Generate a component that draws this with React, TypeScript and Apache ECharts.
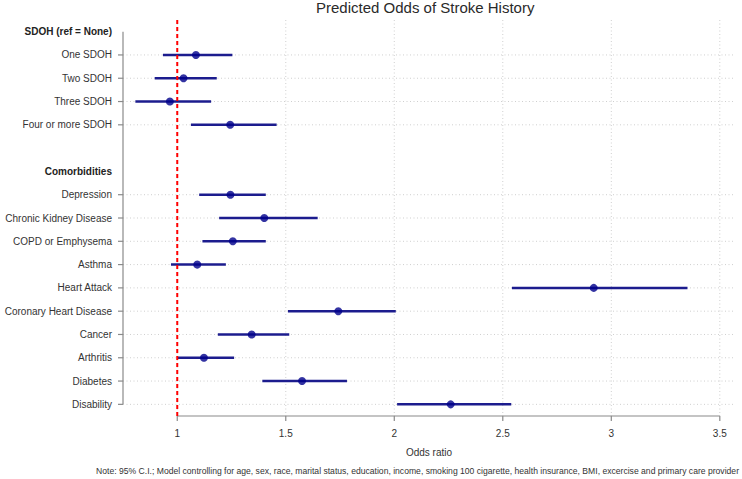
import React, { useEffect, useRef } from 'react';
import * as echarts from 'echarts';

// Odds ratios with 95% confidence limits
const sdohHeader = 'SDOH (ref = None)';
const sdohLabels = ['One SDOH', 'Two SDOH', 'Three SDOH', 'Four or more SDOH'];
const sdohOR = [1.086, 1.029, 0.966, 1.244];
const sdohLower = [0.934, 0.896, 0.807, 1.063];
const sdohUpper = [1.254, 1.182, 1.156, 1.458];

const comorbHeader = 'Comorbidities';
const comorbLabels = [
  'Depression',
  'Chronic Kidney Disease',
  'COPD or Emphysema',
  'Asthma',
  'Heart Attack',
  'Coronary Heart Disease',
  'Cancer',
  'Arthritis',
  'Diabetes',
  'Disability',
];
const comorbOR = [1.245, 1.401, 1.256, 1.092, 2.919, 1.742, 1.343, 1.123, 1.575, 2.26];
const comorbLower = [1.101, 1.193, 1.116, 0.971, 2.542, 1.51, 1.187, 1.0, 1.392, 2.013];
const comorbUpper = [1.408, 1.647, 1.408, 1.224, 3.351, 2.007, 1.516, 1.262, 1.782, 2.539];

const xTicks = [1, 1.5, 2, 2.5, 3, 3.5];
const xMin = 0.75;
const xMax = 3.57;
const refValue = 1;

const spacer = ' ';
const headers = [sdohHeader, comorbHeader];
const rows = [sdohHeader, ...sdohLabels, spacer, comorbHeader, ...comorbLabels];
const itemLabels = [...sdohLabels, ...comorbLabels];
const orValues = [...sdohOR, ...comorbOR];
const lowerValues = [...sdohLower, ...comorbLower];
const upperValues = [...sdohUpper, ...comorbUpper];

const FONT = '"Liberation Sans", Arial, sans-serif';
const NOTE =
  'Note: 95% C.I.; Model controlling for age, sex, race, marital status, education, income, smoking 100 cigarette, health insurance, BMI, excercise and primary care provider';

export default function App() {
  const ref = useRef<HTMLDivElement>(null);

  useEffect(() => {
    if (!ref.current) return;
    const chart = echarts.init(ref.current, undefined, { renderer: 'svg' });

    const rowIndex = (l: string) => rows.indexOf(l);

    const frameItem = (params: any, api: any) => {
      const cs = params.coordSys;
      const left = cs.x;
      const top = cs.y;
      const bottom = cs.y + cs.height;
      const right = cs.x + cs.width;
      const children: any[] = [];
      const dotted = { stroke: '#cfcfcf', lineWidth: 1, lineDash: [1, 2.5] };
      // vertical grid
      xTicks.forEach((t) => {
        const px = api.coord([t, 0])[0];
        children.push({ type: 'line', shape: { x1: px, y1: top, x2: px, y2: bottom }, style: dotted });
      });
      // horizontal grid at each estimate row
      itemLabels.forEach((l) => {
        const py = api.coord([xMin, rowIndex(l)])[1];
        children.push({ type: 'line', shape: { x1: left, y1: py, x2: right, y2: py }, style: dotted });
      });
      const axisStyle = { stroke: '#8a8a8a', lineWidth: 1.2 };
      // y axis line and ticks
      const yTop = api.coord([xMin, 0])[1];
      const yBot = api.coord([xMin, rows.length - 1])[1];
      children.push({ type: 'line', shape: { x1: left, y1: yTop, x2: left, y2: yBot }, style: axisStyle });
      itemLabels.forEach((l) => {
        const py = api.coord([xMin, rowIndex(l)])[1];
        children.push({ type: 'line', shape: { x1: left - 5, y1: py, x2: left, y2: py }, style: axisStyle });
      });
      // x axis line and ticks
      const x0 = api.coord([xTicks[0], 0])[0];
      const x1 = api.coord([xTicks[xTicks.length - 1], 0])[0];
      children.push({ type: 'line', shape: { x1: x0, y1: bottom, x2: x1, y2: bottom }, style: axisStyle });
      xTicks.forEach((t) => {
        const px = api.coord([t, 0])[0];
        children.push({ type: 'line', shape: { x1: px, y1: bottom, x2: px, y2: bottom + 5 }, style: axisStyle });
      });
      return { type: 'group', children };
    };

    chart.setOption({
      animation: false,
      textStyle: { fontFamily: FONT },
      title: {
        text: 'Predicted Odds of Stroke History',
        left: 316,
        top: 0,
        padding: 0,
        textStyle: { fontSize: 15, fontWeight: 'normal', color: '#2a2a2a', fontFamily: FONT },
      },
      grid: { left: 123, right: 7, top: 20, bottom: 63, containLabel: false, outerBoundsMode: 'none' },
      xAxis: {
        type: 'value',
        min: xMin,
        max: xMax,
        interval: 0.25,
        axisLine: { show: false },
        axisTick: { show: false },
        splitLine: { show: false },
        axisLabel: {
          margin: 12,
          fontSize: 10,
          color: '#333',
          fontFamily: FONT,
          showMinLabel: true,
          showMaxLabel: true,
          formatter: (v: number) => {
            const t = xTicks.find((k) => Math.abs(k - v) < 1e-6);
            return t === undefined ? '' : String(t);
          },
        },
        name: 'Odds ratio',
        nameLocation: 'middle',
        nameGap: 31,
        nameTextStyle: { fontSize: 10, color: '#333', fontFamily: FONT },
      },
      yAxis: {
        type: 'category',
        inverse: true,
        data: rows,
        boundaryGap: true,
        axisLine: { show: false },
        axisTick: { show: false },
        splitLine: { show: false },
        axisLabel: {
          interval: 0,
          margin: 11,
          fontSize: 10,
          color: '#333',
          fontFamily: FONT,
          formatter: (v: string) => {
            if (v === spacer) return '';
            return headers.includes(v) ? `{h|${v}}` : v;
          },
          rich: {
            h: { fontSize: 10, fontWeight: 'bold', color: '#222', fontFamily: FONT },
          },
        },
      },
      graphic: [
        {
          type: 'text',
          right: 3,
          top: 466,
          silent: true,
          style: { text: NOTE, fontSize: 8.6, fill: '#333', fontFamily: FONT },
        },
      ],
      series: [
        {
          type: 'custom',
          name: 'frame',
          silent: true,
          clip: false,
          z: 1,
          encode: { x: 0, y: 1 },
          data: [[xMin, 0]],
          renderItem: frameItem,
        },
        {
          type: 'custom',
          name: 'ci',
          silent: true,
          z: 2,
          encode: { x: [0, 1], y: 2 },
          data: itemLabels.map((l, i) => [lowerValues[i], upperValues[i], rowIndex(l)]),
          renderItem: (params: any, api: any) => {
            const a = api.coord([api.value(0), api.value(2)]);
            const b = api.coord([api.value(1), api.value(2)]);
            return {
              type: 'line',
              shape: { x1: a[0], y1: a[1], x2: b[0], y2: b[1] },
              style: { stroke: '#1c1c8e', lineWidth: 2.5 },
            };
          },
        },
        {
          type: 'custom',
          name: 'reference',
          silent: true,
          z: 3,
          encode: { x: 0, y: 1 },
          data: [[refValue, 0]],
          renderItem: (params: any, api: any) => {
            const cs = params.coordSys;
            const px = api.coord([api.value(0), 0])[0];
            return {
              type: 'line',
              shape: { x1: px, y1: cs.y, x2: px, y2: cs.y + cs.height },
              style: { stroke: '#ff0000', lineWidth: 2, lineDash: [4, 3] },
            };
          },
        },
        {
          type: 'scatter',
          name: 'Odds ratio',
          silent: true,
          z: 4,
          symbol: 'circle',
          symbolSize: 8,
          itemStyle: { color: '#00008b' },
          data: itemLabels.map((l, i) => [orValues[i], rowIndex(l)]),
        },
      ],
    });

    return () => chart.dispose();
  }, []);

  return (
    <div
      ref={ref}
      style={{ position: 'absolute', left: 0, top: 0, width: 742, height: 479, background: '#fff' }}
    />
  );
}
